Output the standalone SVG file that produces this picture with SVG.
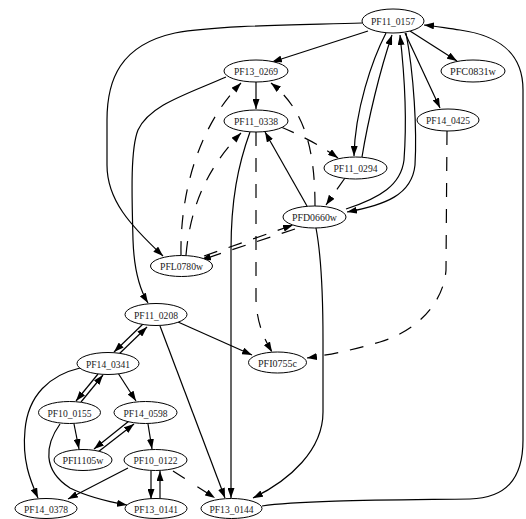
<svg xmlns="http://www.w3.org/2000/svg" width="526" height="519" viewBox="0 0 526 519">
  <defs>
    <marker id="arrow" markerUnits="userSpaceOnUse" markerWidth="10" markerHeight="7" refX="10" refY="3.5" orient="auto">
      <path d="M0,0 L10,3.5 L0,7 z" fill="#000"/>
    </marker>
  </defs>
  <style>
    .edge { fill: none; stroke: #000; stroke-width: 1.2; marker-end: url(#arrow); }
    .dash { stroke-dasharray: 14 12; }
    .bare { marker-end: none; }
    .node ellipse { fill: #fff; stroke: #000; stroke-width: 1; }
    .node text { font-family: "Liberation Serif", "Times New Roman", serif; font-size: 11px; fill: #222; text-anchor: middle; }
  </style>
  <rect width="526" height="519" fill="#fff"/>

  <g id="connectors">
    <!-- from PF11_0157 -->
    <path class="edge" d="M368,31 L272,62"/>
    <path class="edge" d="M410,31 L457,61"/>
    <path class="edge" d="M405,33 L440,108"/>
    <path class="edge" d="M386,33 C372,60 355,110 354,156"/>
    <path class="edge" d="M362,157 C368,120 380,70 392,35"/>
    <path class="edge" d="M406,33 C414,75 417,130 415,165 C412,195 385,205 347,212"/>
    <path class="edge" d="M346,209 C380,198 401,185 404,160 C407,120 404,70 400,35"/>
    <path class="edge" d="M362,23 C300,25 220,25 175,33 C120,45 107,80 107,120 L107,165 C107,200 130,225 163,256"/>
    <!-- from PF13_0269 -->
    <path class="edge" d="M256,82 L256,109"/>
    <path class="edge" d="M226,77 C185,95 150,105 138,130 C130,150 132,200 133,240 C134,270 140,290 148,303"/>
    <!-- dashed edges around PFL0780w / PFD0660w -->
    <path class="edge dash" d="M181,255 C180,200 195,130 241,83"/>
    <path class="edge dash" d="M186,255 C190,210 205,170 241,133"/>
    <path class="edge dash" d="M315,206 C315,150 305,110 271,83"/>
    <path class="edge dash" d="M281,127 C300,135 320,145 338,158"/>
    <path class="edge dash" d="M345,178 L326,205"/>
    <path class="edge dash" d="M204,256 L293,225"/>
    <path class="edge dash" d="M295,229 L201,260"/>
    <!-- from PF11_0338 -->
    <path class="edge" d="M307,206 L265,132"/>
    <path class="edge" d="M250,132 C238,165 231,200 231,250 L231,498"/>
    <path class="edge dash" d="M256,132 L256,300 C257,325 265,340 272,352"/>
    <!-- from PF14_0425 -->
    <path class="edge dash" d="M447,131 L446,270 C444,300 420,330 380,342 C360,348 335,354 307,358"/>
    <!-- from PFD0660w -->
    <path class="edge" d="M316,228 C322,260 323,300 323,340 L323,412 C323,450 290,480 253,498"/>
    <!-- PF13_0144 back to PF11_0157 -->
    <path class="edge" d="M262,506 C300,500 400,500 470,499 C505,498 523,480 523,440 L523,90 C523,50 495,35 460,30 C445,28 435,26 424,25"/>
    <!-- from PF11_0208 -->
    <path class="edge" d="M178,322 L252,355"/>
    <path class="edge" d="M143,324 L114,352"/>
    <path class="edge" d="M118,355 L147,327"/>
    <path class="edge" d="M160,326 L225,498"/>
    <!-- from PF14_0341 -->
    <path class="edge" d="M98,374 L76,401"/>
    <path class="edge" d="M81,402 L103,375"/>
    <path class="edge" d="M118,373 L136,401"/>
    <path class="edge" d="M80,368 C50,375 28,395 25,430 C22,460 30,480 38,498"/>
    <!-- from PF10_0155 -->
    <path class="edge" d="M74,424 L79,449"/>
    <path class="edge" d="M60,424 C45,445 42,470 70,488 C90,498 110,502 127,505"/>
    <!-- PF14_0598 / PFI1105w / PF10_0122 -->
    <path class="edge" d="M129,421 L94,449"/>
    <path class="edge" d="M98,452 L134,424"/>
    <path class="edge" d="M148,424 L152,449"/>
    <path class="edge" d="M128,468 L68,499"/>
    <path class="edge" d="M151,471 L151,499"/>
    <path class="edge" d="M160,498 L160,471"/>
    <path class="edge" style="stroke-dasharray: 14 15" d="M173,471 L215,498"/>
  </g>

  <g id="PF11_0157" class="node"><ellipse cx="393" cy="21" rx="31" ry="12"/><text x="393" y="25" textLength="44" lengthAdjust="spacingAndGlyphs">PF11_0157</text></g>
  <g id="PF13_0269" class="node"><ellipse cx="256" cy="71" rx="32" ry="11"/><text x="256" y="75" textLength="44" lengthAdjust="spacingAndGlyphs">PF13_0269</text></g>
  <g id="PFC0831w" class="node"><ellipse cx="473" cy="71" rx="32" ry="11"/><text x="473" y="75" textLength="46" lengthAdjust="spacingAndGlyphs">PFC0831w</text></g>
  <g id="PF11_0338" class="node"><ellipse cx="256" cy="121" rx="32" ry="11"/><text x="256" y="125" textLength="44" lengthAdjust="spacingAndGlyphs">PF11_0338</text></g>
  <g id="PF14_0425" class="node"><ellipse cx="448" cy="120" rx="31" ry="11"/><text x="448" y="124" textLength="44" lengthAdjust="spacingAndGlyphs">PF14_0425</text></g>
  <g id="PF11_0294" class="node"><ellipse cx="355.5" cy="168" rx="31.5" ry="11"/><text x="355.5" y="172" textLength="44" lengthAdjust="spacingAndGlyphs">PF11_0294</text></g>
  <g id="PFD0660w" class="node"><ellipse cx="314.5" cy="217" rx="31.5" ry="11"/><text x="314.5" y="221" textLength="45" lengthAdjust="spacingAndGlyphs">PFD0660w</text></g>
  <g id="PFL0780w" class="node"><ellipse cx="181.5" cy="266" rx="31" ry="10.5"/><text x="181.5" y="270" textLength="43" lengthAdjust="spacingAndGlyphs">PFL0780w</text></g>
  <g id="PF11_0208" class="node"><ellipse cx="156" cy="314.5" rx="31" ry="11"/><text x="156" y="318.5" textLength="44" lengthAdjust="spacingAndGlyphs">PF11_0208</text></g>
  <g id="PF14_0341" class="node"><ellipse cx="108" cy="363.5" rx="31" ry="11"/><text x="108" y="367.5" textLength="44" lengthAdjust="spacingAndGlyphs">PF14_0341</text></g>
  <g id="PFI0755c" class="node"><ellipse cx="277.5" cy="362.5" rx="29" ry="10.5"/><text x="277.5" y="366.5" textLength="39" lengthAdjust="spacingAndGlyphs">PFI0755c</text></g>
  <g id="PF10_0155" class="node"><ellipse cx="69.5" cy="412.5" rx="31" ry="11"/><text x="69.5" y="416.5" textLength="44" lengthAdjust="spacingAndGlyphs">PF10_0155</text></g>
  <g id="PF14_0598" class="node"><ellipse cx="145.5" cy="412.5" rx="31.5" ry="11"/><text x="145.5" y="416.5" textLength="44" lengthAdjust="spacingAndGlyphs">PF14_0598</text></g>
  <g id="PFI1105w" class="node"><ellipse cx="83" cy="460" rx="29" ry="10.5"/><text x="83" y="464" textLength="41" lengthAdjust="spacingAndGlyphs">PFI1105w</text></g>
  <g id="PF10_0122" class="node"><ellipse cx="155.5" cy="460" rx="31.5" ry="10.5"/><text x="155.5" y="464" textLength="44" lengthAdjust="spacingAndGlyphs">PF10_0122</text></g>
  <g id="PF14_0378" class="node"><ellipse cx="46" cy="508.5" rx="31" ry="10"/><text x="46" y="512.5" textLength="44" lengthAdjust="spacingAndGlyphs">PF14_0378</text></g>
  <g id="PF13_0141" class="node"><ellipse cx="156" cy="508.5" rx="31" ry="10"/><text x="156" y="512.5" textLength="44" lengthAdjust="spacingAndGlyphs">PF13_0141</text></g>
  <g id="PF13_0144" class="node"><ellipse cx="231.5" cy="508.5" rx="30.5" ry="10"/><text x="231.5" y="512.5" textLength="44" lengthAdjust="spacingAndGlyphs">PF13_0144</text></g>
</svg>
